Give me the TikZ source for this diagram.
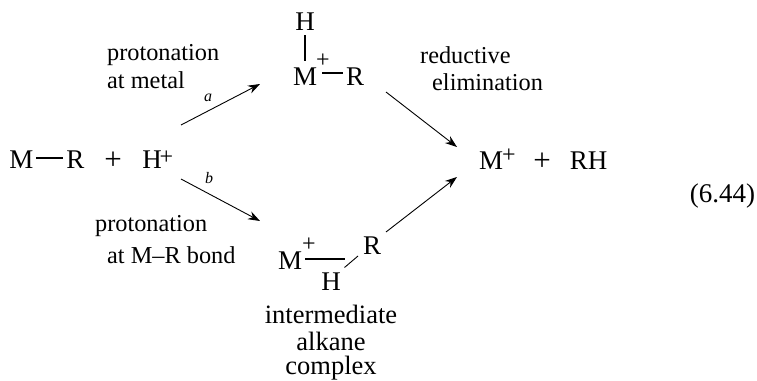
\documentclass[tikz,border=0pt]{standalone}
\usepackage{fontspec}
\setmainfont{Liberation Serif}
\usetikzlibrary{arrows.meta}
\tikzset{
  x=1pt,y=-1pt,
  chem/.style={inner sep=0pt,anchor=base,font=\fontsize{27}{27}\selectfont},
  opplus/.style={inner sep=0pt,anchor=base,font=\fontsize{31}{31}\selectfont},
  txt/.style={inner sep=0pt,anchor=base west,font=\fontsize{24.3}{25}\selectfont},
  ctxt/.style={inner sep=0pt,anchor=base,font=\fontsize{26.5}{27}\selectfont},
  sup/.style={inner sep=0pt,anchor=base,font=\fontsize{24}{24}\selectfont},
  lab/.style={inner sep=0pt,anchor=base,font=\itshape\fontsize{16}{16}\selectfont},
  rx/.style={line width=0.9pt,-{Stealth[length=12pt,width=8.5pt]}},
  bond/.style={line width=1.5pt},
  thinbond/.style={line width=0.9pt}
}
\begin{document}
\begin{tikzpicture}
\useasboundingbox (0,0) rectangle (757,380);
% left reactants
\node[chem] (m1) at (21.5,168) {M};
\node[chem] (r1) at (75.5,168) {R};
\node[opplus] (p1) at (113,169) {+};
\node[chem] (h1) at (152,168) {H};
\node[sup] (h1p) at (166.5,164.5) {+};
\coordinate (b1a) at (36,158); \coordinate (b1b) at (63,158);
\draw[bond] (b1a) -- (b1b);
% top complex
\node[chem] (h2) at (305,30) {H};
\node[chem] (m2) at (305,85) {M};
\node[sup] (m2p) at (323,67.5) {+};
\node[chem] (r2) at (355,85) {R};
\coordinate (b2a) at (305,35); \coordinate (b2b) at (305,61);
\coordinate (b3a) at (322,73); \coordinate (b3b) at (343,73);
\draw[bond] (b2a) -- (b2b);
\draw[bond] (b3a) -- (b3b);
% bottom complex
\node[chem] (m3) at (290,269) {M};
\node[sup] (m3p) at (309,251.5) {+};
\node[chem] (h3) at (331,290) {H};
\node[chem] (r3) at (372,254) {R};
\coordinate (b4a) at (305,259); \coordinate (b4b) at (345,259);
\coordinate (b5a) at (344.5,267.5); \coordinate (b5b) at (358,256);
\draw[bond] (b4a) -- (b4b);
\draw[thinbond] (b5a) -- (b5b);
% products
\node[chem] (m4) at (491,169) {M};
\node[sup] (m4p) at (509,162.5) {+};
\node[opplus] (p4) at (542,170) {+};
\node[chem] (rh) at (588.5,169) {RH};
\node[chem] (num) at (722.5,202) {(6.44)};
% labels
\node[txt] (t1) at (107,60) {protonation};
\node[txt] (t2) at (107,88) {at metal};
\node[txt] (t3) at (420,63) {reductive};
\node[txt] (t4) at (432,90) {elimination};
\node[txt] (t5) at (95,231) {protonation};
\node[txt] (t6) at (107,263) {at M–R bond};
\node[ctxt] (t7) at (331,323) {intermediate};
\node[ctxt] (t8) at (331,350) {alkane};
\node[ctxt] (t9) at (331,374) {complex};
\node[lab] (la) at (208,101) {a};
\node[lab] (lb) at (209,183) {b};
% arrows
\coordinate (aa) at (181,125); \coordinate (ab) at (260,84);
\coordinate (ba) at (181,179); \coordinate (bb) at (260,221);
\coordinate (ca) at (386,92); \coordinate (cb) at (457,147);
\coordinate (da) at (386,232); \coordinate (db) at (457,177);
\draw[rx] (aa) -- (ab);
\draw[rx] (ba) -- (bb);
\draw[rx] (ca) -- (cb);
\draw[rx] (da) -- (db);
\end{tikzpicture}
\end{document}
